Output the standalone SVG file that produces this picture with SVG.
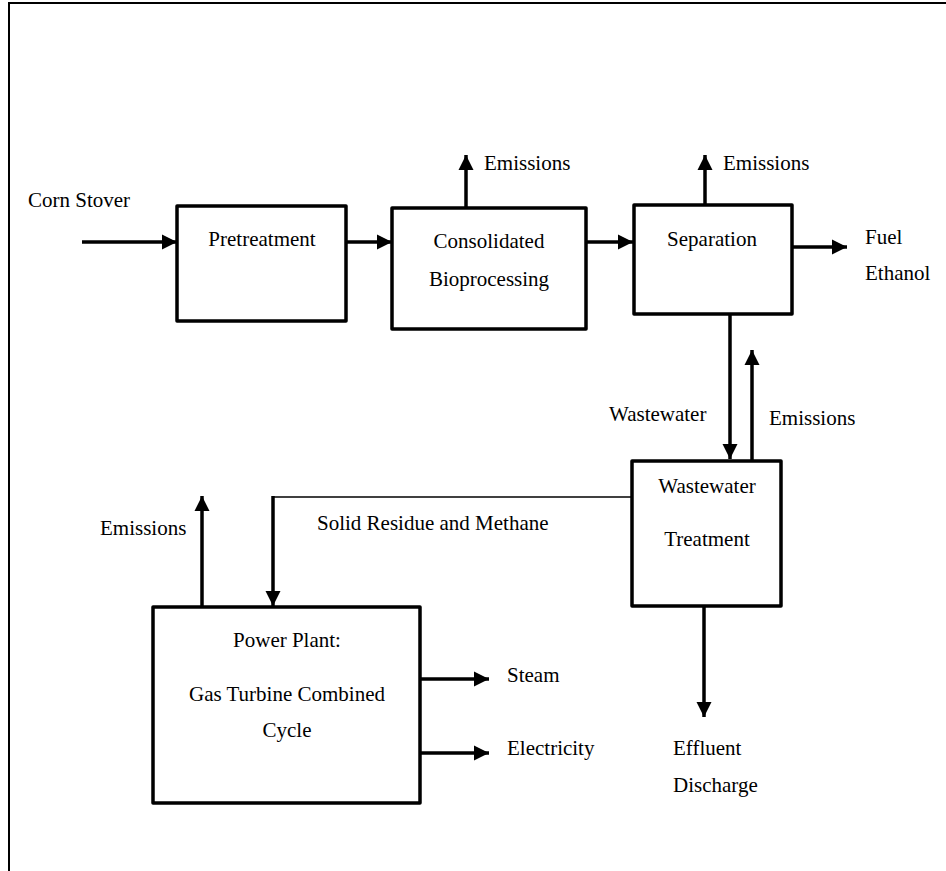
<svg xmlns="http://www.w3.org/2000/svg" width="946" height="871" viewBox="0 0 946 871" font-family="Liberation Serif, DejaVu Serif, serif" font-size="21">
<style>
text{fill:#000}
.box{fill:#fff;stroke:#000;stroke-width:3.5;stroke-linejoin:round}
.c{text-anchor:middle}
.a{fill:none;stroke:#000;stroke-width:3.5;marker-end:url(#ah)}
.t{fill:none;stroke:#000;stroke-width:1.5}
</style>
<defs>
<marker id="ah" markerUnits="userSpaceOnUse" markerWidth="16" markerHeight="16" viewBox="0 0 16 16" refX="15" refY="8" orient="auto">
<path d="M0,0.5 L15,8 L0,15.5 z" fill="#000"/>
</marker>
</defs>
<rect width="946" height="871" fill="#fff"/>
<path d="M9,871 V3 H946" fill="none" stroke="#000" stroke-width="2"/>

<g id="connectors">
<path class="a" d="M82,242 H177"/>
<path class="a" d="M346,242 H392"/>
<path class="a" d="M466,208 V155"/>
<path class="a" d="M586,242 H633"/>
<path class="a" d="M705,205 V155"/>
<path class="a" d="M792,247 H847"/>
<path class="a" d="M730,314 V459"/>
<path class="a" d="M752,461 V350"/>
<path class="t" d="M632,497 H273"/>
<path class="a" d="M273,496 V606"/>
<path class="a" d="M202,607 V496"/>
<path class="a" d="M420,679 H489"/>
<path class="a" d="M420,753 H489"/>
<path class="a" d="M704,606 V717"/>
</g>

<g id="labels">
<text x="28" y="207">Corn Stover</text>
<text x="484" y="170">Emissions</text>
<text x="723" y="170">Emissions</text>
<text x="865" y="244">Fuel</text>
<text x="865" y="280">Ethanol</text>
<text x="609" y="421">Wastewater</text>
<text x="769" y="425">Emissions</text>
<text x="100" y="535">Emissions</text>
<text x="317" y="530">Solid Residue and Methane</text>
<text x="507" y="682">Steam</text>
<text x="507" y="755">Electricity</text>
<text x="673" y="755">Effluent</text>
<text x="673" y="792">Discharge</text>
</g>

<g id="pretreatment">
<rect class="box" x="177" y="206" width="169" height="115"/>
<text class="c" x="262" y="246">Pretreatment</text>
</g>
<g id="cbp">
<rect class="box" x="392" y="208" width="194" height="121"/>
<text class="c" x="489" y="248">Consolidated</text>
<text class="c" x="489" y="286">Bioprocessing</text>
</g>
<g id="separation">
<rect class="box" x="634" y="205" width="158" height="109"/>
<text class="c" x="712" y="246">Separation</text>
</g>
<g id="wwt">
<rect class="box" x="632" y="461" width="149" height="145"/>
<text class="c" x="707" y="493">Wastewater</text>
<text class="c" x="707" y="546">Treatment</text>
</g>
<g id="powerplant">
<rect class="box" x="153" y="607" width="267" height="196"/>
<text class="c" x="287" y="647">Power Plant:</text>
<text class="c" x="287" y="701">Gas Turbine Combined</text>
<text class="c" x="287" y="737">Cycle</text>
</g>
</svg>
